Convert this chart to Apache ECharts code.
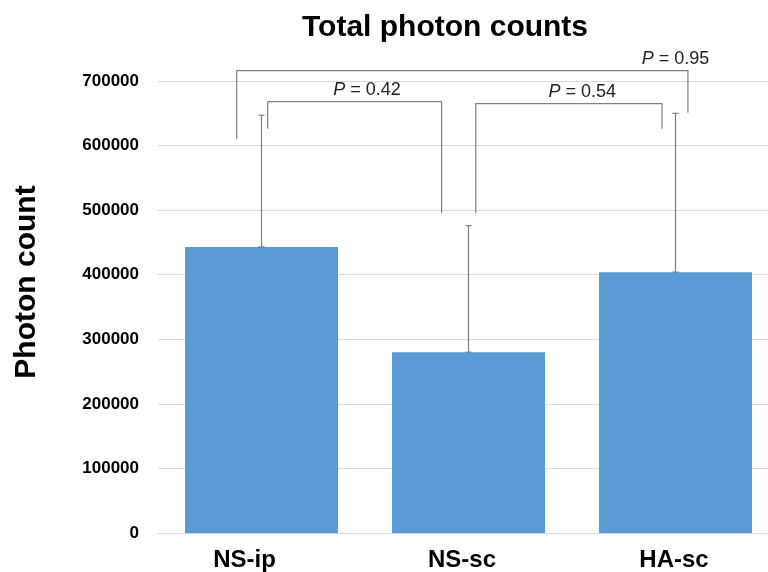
<!DOCTYPE html>
<html>
<head>
<meta charset="utf-8">
<script src="https://cdn.jsdelivr.net/npm/echarts@6/dist/echarts.min.js"></script>
<style>
  html, body { margin: 0; padding: 0; background: #fff; }
  #chart { width: 768px; height: 572px; }
</style>
</head>
<body>
<div id="chart"></div>
<script>
// data
var categories = ['NS-ip', 'NS-sc', 'HA-sc'];
var means = [443000, 280000, 404000];
var errTops = [647000, 476000, 650000];

// significance brackets, x in category units (0 = first bar centre)
var bracketLeft = [0.03, 1.035, -0.12];
var bracketRight = [0.87, 1.935, 2.06];
var bracketTop = [668000, 665000, 716000];
var legLeftEnd = [626000, 495000, 610000];
var legRightEnd = [495000, 626000, 651000];
var pValues = ['0.42', '0.54', '0.95'];
var labelX = [0.51, 1.55, 2.0];

var chart = echarts.init(document.getElementById('chart'));

var bracketData = bracketLeft.map(function (l, i) {
  return [l, bracketRight[i], bracketTop[i], legLeftEnd[i], legRightEnd[i], labelX[i]];
});

// labels sit a little left of their bars in the original
var labelShift = [34, 13, 3];
var catData = categories.map(function (c, i) {
  return { value: c, textStyle: { padding: [0, labelShift[i], 0, 0] } };
});

var option = {
  animation: false,
  title: {
    text: 'Total photon counts',
    left: 440,
    top: 8,
    textAlign: 'center',
    textStyle: { fontFamily: 'Liberation Sans', fontSize: 30, fontWeight: 'bold', color: '#000' }
  },
  grid: { left: 158, width: 621, top: 81, bottom: 39, outerBoundsMode: 'none' },
  xAxis: [
    {
      type: 'category',
      data: catData,
      axisLine: { show: false },
      axisTick: { show: false },
      axisLabel: { fontFamily: 'Liberation Sans', fontSize: 24, fontWeight: 'bold', color: '#000', margin: 15 }
    },
    { type: 'value', min: -0.5, max: 2.5, show: false }
  ],
  yAxis: {
    type: 'value',
    min: 0,
    max: 700000,
    interval: 100000,
    name: 'Photon count',
    nameLocation: 'middle',
    nameGap: 116,
    nameTextStyle: {
      fontFamily: 'Liberation Sans', fontSize: 30, fontWeight: 'bold', color: '#000',
      padding: [0, 0, 0, 50]
    },
    axisLine: { show: false },
    axisTick: { show: false },
    splitLine: { lineStyle: { color: '#d9d9d9', width: 1 } },
    axisLabel: {
      fontFamily: 'Liberation Sans', fontSize: 17, fontWeight: 'bold', color: '#000', margin: 19,
      formatter: function (v) { return String(v); }
    }
  },
  series: [
    {
      type: 'bar',
      data: means,
      barWidth: 153,
      itemStyle: { color: '#5b9bd5' },
      z: 2
    },
    {
      // error bars
      type: 'custom',
      z: 3,
      data: means.map(function (m, i) { return [i, m, errTops[i]]; }),
      renderItem: function (params, api) {
        var lo = api.coord([api.value(0), api.value(1)]);
        var hi = api.coord([api.value(0), api.value(2)]);
        var cap = 3;
        var st = { stroke: '#7f7f7f', lineWidth: 1.2 };
        return {
          type: 'group',
          children: [
            { type: 'line', shape: { x1: lo[0], y1: lo[1], x2: hi[0], y2: hi[1] }, style: st },
            { type: 'line', shape: { x1: hi[0] - cap, y1: hi[1], x2: hi[0] + cap, y2: hi[1] }, style: st },
            { type: 'line', shape: { x1: lo[0] - cap, y1: lo[1], x2: lo[0] + cap, y2: lo[1] }, style: st }
          ]
        };
      }
    },
    {
      // significance brackets
      type: 'custom',
      xAxisIndex: 1,
      clip: false,
      z: 4,
      data: bracketData,
      renderItem: function (params, api) {
        var i = params.dataIndex;
        var a = api.coord([api.value(0), api.value(3)]);
        var b = api.coord([api.value(0), api.value(2)]);
        var c = api.coord([api.value(1), api.value(2)]);
        var d = api.coord([api.value(1), api.value(4)]);
        var t = api.coord([api.value(5), api.value(2)]);
        return {
          type: 'group',
          children: [
            {
              type: 'polyline',
              shape: { points: [a, b, c, d] },
              style: { stroke: '#808080', lineWidth: 1.2, fill: null }
            },
            {
              type: 'text',
              x: t[0],
              y: t[1] - 3,
              style: {
                text: '{i|P} = ' + pValues[i],
                fill: '#222',
                font: '18px "Liberation Sans"',
                align: 'center',
                verticalAlign: 'bottom',
                rich: {
                  i: { fontStyle: 'italic', fontSize: 18, fontFamily: 'Liberation Sans', fill: '#222' }
                }
              }
            }
          ]
        };
      }
    }
  ]
};

chart.setOption(option);
</script>
</body>
</html>
